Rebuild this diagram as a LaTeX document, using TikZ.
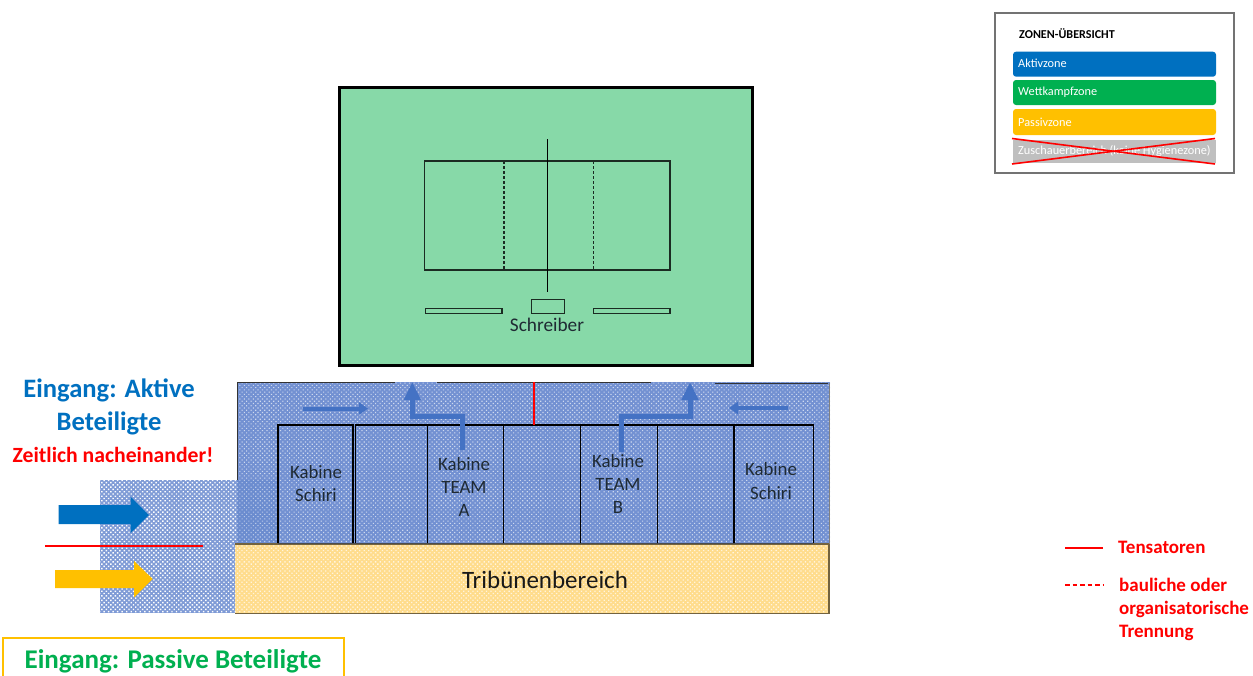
\documentclass[tikz,border=0pt]{standalone}
\usepackage{fontspec}
\setmainfont{Carlito}
\usetikzlibrary{patterns.meta,arrows.meta}
\definecolor{bluezone}{HTML}{0070C0}
\definecolor{greenzone}{HTML}{00B050}
\definecolor{yellowzone}{HTML}{FFC000}
\definecolor{greyzone}{HTML}{BFBFBF}
\definecolor{fieldgreen}{HTML}{87D9A8}
\definecolor{arrowblue}{HTML}{4472C4}
\definecolor{areablue}{HTML}{7391D2}
\definecolor{entryblue}{HTML}{7F9BD6}
\definecolor{standyellow}{HTML}{FFDC8C}
\definecolor{textdark}{HTML}{1F2A33}
\tikzset{
  px/.style={font=\fontsize{#1}{#1}\selectfont},
  courtline/.style={draw=black!80!fieldgreen,line width=1.2pt},
  cabin/.style={draw=black,line width=1.2pt},
  cabtext/.style={px=18.8,text=textdark,align=center,inner sep=0pt},
  smallarrow/.style={draw=arrowblue,line width=4pt,-{Triangle[width=12pt,length=9pt]}},
  bentarrow/.style={draw=arrowblue,line width=5pt,-{Triangle[width=16pt,length=18pt]}},
  redlabel/.style={text=red,font=\fontsize{19}{19}\selectfont\bfseries,anchor=west,inner sep=0pt},
  redline/.style={draw=red,line width=1.8pt},
  legendtext/.style={px=12.3,text=white,anchor=west,inner sep=0pt}
}
\begin{document}
\begin{tikzpicture}[x=1pt,y=-1pt]
\useasboundingbox[fill=white] (0,0) rectangle (1253,675);

% field
\node[draw=black,line width=3pt,fill=fieldgreen,minimum width=413pt,minimum height=278pt,inner sep=0pt,outer sep=0pt,anchor=north west] (field) at (339.5,87.5) {};
\draw[courtline] (424.7,161) rectangle (670,270);
\draw[courtline,densely dashed] (504,161) -- (504,270);
\draw[courtline,densely dashed] (593.7,161) -- (593.7,270);
\coordinate (netT) at (547,139);
\coordinate (netB) at (547,291.7);
\draw[black,line width=1pt] (netT) -- (netB);
\draw[courtline] (531.3,299.7) rectangle (564.7,313.7);
\draw[courtline] (425.7,308.7) rectangle (502,313.7);
\draw[courtline] (593.7,308.7) rectangle (670,313.7);
\node[cabtext,px=19.3] (schreiber) at (547,325) {Schreiber};

% entrance area
\fill[entryblue] (100,480) rectangle (237,613);
\fill[pattern={Dots[distance=3.2pt,radius=1pt,angle=45]},pattern color=white] (100,480) rectangle (237,613);

% blue area
\fill[areablue] (237,382) rectangle (830,544);
\fill[pattern={Dots[distance=3.2pt,radius=.8pt,angle=45]},pattern color=white!65!areablue] (237,382) rectangle (830,544);
\fill[arrowblue,opacity=.15] (237,480) rectangle (278,544);
\draw[black!80,line width=1pt] (237,480) -- (237,382) -- (395,382);
\draw[black!80,line width=1pt] (437,382) -- (651,382);
\draw[black!80,line width=1pt] (715,383.5) -- (828,383.5);
\draw[gray,line width=1pt] (829.5,383) -- (829.5,544);

% stand
\node[fill=standyellow,minimum width=594pt,minimum height=69pt,inner sep=0pt,outer sep=0pt,anchor=north west] (stand) at (235,544) {};
\fill[pattern={Dots[distance=3.2pt,radius=.9pt,angle=45]},pattern color=white!70!standyellow] (235,544) rectangle (829,613);
\draw[black!55!standyellow,line width=1.2pt] (235,613.3) -- (829,613.3) -- (829,544);
\draw[black!55!standyellow,line width=1.2pt] (235,544) -- (829,544);
\node[px=25,text=black!90,inner sep=0pt] at (545,580) {Tribünenbereich};

% cabins
\foreach \xa/\xb/\nm in {278/353/c1,355.7/427.7/c2,427.7/503.7/c3,503.7/580.7/c4,580.7/657.3/c5,657.3/734/c6,734/813.3/c7}{
  \draw[cabin] (\xa,543) -- (\xa,425) -- (\xb,425) -- (\xb,543);
}
\draw[black!70,line width=.8pt] (278,543) -- (813.3,543);

\node[cabtext] (k1) at (316,483.5) {Kabine\\[4.5pt]Schiri};
\node[cabtext] (k7) at (771,481) {Kabine\\[4.5pt]Schiri};
\node[cabtext] (ka) at (464,487) {Kabine\\[4.5pt]TEAM\\[4.5pt]A};
\node[cabtext] (kb) at (618,484) {Kabine\\[4.5pt]TEAM\\[4.5pt]B};

% red separator in the blue area
\draw[redline] (534.3,382) -- (534.3,425);

% small and bent arrows
\coordinate (s1) at (303,408.5); \coordinate (e1) at (368,408.5);
\coordinate (s2) at (788,408); \coordinate (e2) at (729,408);
\draw[smallarrow] (s1) -- (e1);
\draw[smallarrow] (s2) -- (e2);
\coordinate (as) at (462.7,450); \coordinate (ae) at (412.3,382);
\coordinate (bs) at (621,451.7); \coordinate (be) at (690,382);
\draw[bentarrow] (as) |- (412.3,416.7) -- (ae);
\draw[bentarrow] (bs) |- (690,416.7) -- (be);

% big entrance arrows
\fill[bluezone] (58.7,505) -- (130.7,505) -- (130.7,496.7) -- (149,515) -- (130.7,533) -- (130.7,524) -- (58.7,524) -- cycle;
\fill[yellowzone] (55,570) -- (134,570) -- (134,561) -- (152.7,579) -- (134,597.7) -- (134,588) -- (55,588) -- cycle;
\coordinate (rl1) at (45,545.7); \coordinate (rl2) at (203,545.7);
\draw[red,line width=1.8pt] (rl1) -- (rl2);

% entrance labels
\node[text=bluezone,font=\fontsize{26.6}{33}\selectfont\bfseries,align=center,inner sep=0pt] (aktiv) at (109,407) {Eingang: Aktive\\Beteiligte};
\node[text=red,font=\fontsize{21.7}{22}\selectfont\bfseries,inner sep=0pt] (zeit) at (113,455) {Zeitlich nacheinander!};
\draw[yellowzone,line width=2pt] (2.7,680) -- (2.7,637.7) -- (344,637.7) -- (344,680);
\node[text=greenzone,font=\fontsize{27}{27}\selectfont\bfseries,inner sep=0pt] (passiv) at (173,661) {Eingang: Passive Beteiligte};

% zone legend
\node[draw=black!55,line width=2pt,fill=white,minimum width=239pt,minimum height=159.7pt,inner sep=0pt,outer sep=0pt,anchor=north west] (legend) at (995,13) {};
\node[font=\fontsize{12.1}{12}\selectfont\bfseries,text=black,anchor=west,inner sep=0pt] (ltitle) at (1019,34) {ZONEN-ÜBERSICHT};
\fill[bluezone,rounded corners=3pt] (1013,51.7) rectangle (1216,76.7);
\fill[greenzone,rounded corners=3pt] (1013,80) rectangle (1216,105);
\fill[yellowzone,rounded corners=3pt] (1013,109) rectangle (1216,135);
\fill[greyzone] (1013,140) rectangle (1216,163);
\node[legendtext] (l1) at (1018,63.5) {Aktivzone};
\node[legendtext] (l2) at (1018,92.5) {Wettkampfzone};
\node[legendtext] (l3) at (1018,122) {Passivzone};
\node[legendtext] (l4) at (1018,151) {Zuschauerbereich (keine Hygienezone)};
\draw[red,line width=1.6pt] (1012,138.5) -- (1215,164);
\draw[red,line width=1.6pt] (1012,164) -- (1215,138.5);

% line legend
\coordinate (t1) at (1065,547.7); \coordinate (t2) at (1103,547.7);
\coordinate (d1) at (1065,585); \coordinate (d2) at (1103,585);
\draw[red,line width=1.8pt] (t1) -- (t2);
\draw[red,line width=1.6pt,dash pattern=on 4.5pt off 3pt] (d1) -- (d2);
\node[redlabel] (ten) at (1118,547) {Tensatoren};
\node[redlabel,align=left,font=\fontsize{19}{23}\selectfont\bfseries,anchor=north west] (tren) at (1119,578) {bauliche oder\\organisatorische\\Trennung};
\end{tikzpicture}
\end{document}
